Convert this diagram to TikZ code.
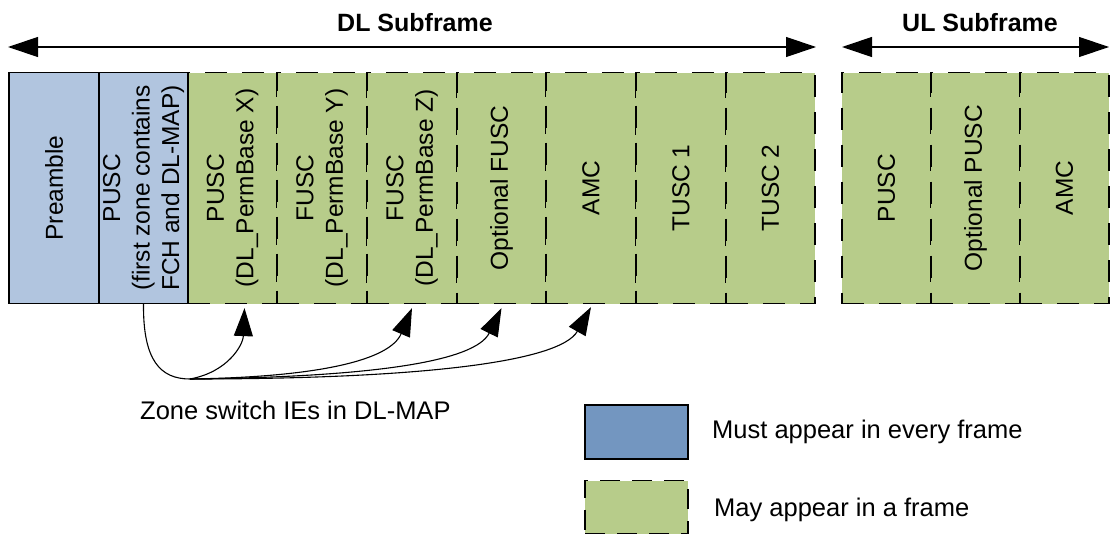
\documentclass[tikz,border=0pt]{standalone}
\usepackage{fontspec}
\setmainfont{Liberation Sans}
\usetikzlibrary{arrows.meta}
\definecolor{zoneblue}{HTML}{B1C5DF}
\definecolor{legblue}{HTML}{7396C0}
\definecolor{zonegreen}{HTML}{B7CC8A}
\tikzset{
  must/.style={draw=black, fill=zoneblue, line width=1.2pt, minimum height=231pt, inner sep=0pt},
  may/.style={draw=black, fill=zonegreen, line width=1.2pt, dash pattern=on 22pt off 15pt,
              minimum height=231pt, inner sep=0pt},
  vtext/.style={rotate=90, align=center, font=\fontsize{24.5}{29.5}\selectfont, inner sep=0pt},
  span/.style={line width=1.2pt, {Triangle[length=30pt,width=20pt]}-{Triangle[length=30pt,width=20pt]}},
  title/.style={font=\fontsize{25}{30}\selectfont\bfseries},
  zswitch/.style={line width=1.1pt, -{Triangle[length=28pt,width=19pt]}},
  plain/.style={font=\fontsize{25.5}{30}\selectfont, anchor=west, inner sep=0pt}
}
\begin{document}
\begin{tikzpicture}[x=1pt,y=-1pt]
\useasboundingbox (0,0) rectangle (1110,535);

% subframe spans
\coordinate (dlL) at (8,47);
\coordinate (dlR) at (816,47);
\coordinate (ulL) at (842,47);
\coordinate (ulR) at (1109,47);
\draw[span] (dlL) -- (dlR);
\draw[span] (ulL) -- (ulR);
\node[title] (dlt) at (415,23) {DL Subframe};
\node[title] (ult) at (980,23) {UL Subframe};

% downlink zones
\node[must, minimum width=90pt] (c1) at (54,188) {};
\node[must, minimum width=89pt] (c2) at (143.5,188) {};
\node[may, minimum width=89pt] (c3) at (232.5,188) {};
\node[may, minimum width=90pt] (c4) at (322,188) {};
\node[may, minimum width=90pt] (c5) at (412,188) {};
\node[may, minimum width=89pt] (c6) at (501.5,188) {};
\node[may, minimum width=90pt] (c7) at (591,188) {};
\node[may, minimum width=90pt] (c8) at (681,188) {};
\node[may, minimum width=89pt] (c9) at (770.5,188) {};
\draw[line width=1.2pt] (c2.north east) -- (c2.south east);

\node[vtext] at (c1) {Preamble};
\node[vtext] at (c2) {PUSC\\(first zone contains\\FCH and DL-MAP)};
\node[vtext] at (c3) {PUSC\\(DL\_PermBase X)};
\node[vtext] at (c4) {FUSC\\(DL\_PermBase Y)};
\node[vtext] at (c5) {FUSC\\(DL\_PermBase Z)};
\node[vtext] at (c6) {Optional FUSC};
\node[vtext] at (c7) {AMC};
\node[vtext] at (c8) {TUSC 1};
\node[vtext] at (c9) {TUSC 2};

% uplink zones
\node[may, minimum width=89pt] (u1) at (886.5,188) {};
\node[may, minimum width=89pt] (u2) at (975.5,188) {};
\node[may, minimum width=89pt] (u3) at (1064.5,188) {};
\node[vtext] at (u1) {PUSC};
\node[vtext] at (u2) {Optional PUSC};
\node[vtext] at (u3) {AMC};

% zone switch connectors
\coordinate (hub) at (190,379);
\draw[line width=1.1pt] (c2.south) .. controls (143,360) and (160,379) .. (hub);
\draw[zswitch] (hub) .. controls (228,372) and (243,345) .. ([xshift=12pt,yshift=-4pt]c3.south);
\draw[zswitch] (hub) .. controls (320,377) and (390,360) .. ([yshift=-4pt]c5.south);
\draw[zswitch] (hub) .. controls (370,377) and (475,362) .. ([yshift=-4pt]c6.south);
\draw[zswitch] (hub) .. controls (420,379) and (560,362) .. ([yshift=-3pt]c7.south);
\node[plain] (zs) at (140,410) {Zone switch IEs in DL-MAP};

% legend
\node[draw=black, fill=legblue, line width=1.2pt, minimum width=103pt, minimum height=54pt, inner sep=0pt] (lb) at (636.5,432) {};
\node[draw=black, fill=zonegreen, line width=1.2pt, dash pattern=on 20pt off 12pt, minimum width=103pt, minimum height=53pt, inner sep=0pt] (lg) at (636.5,507) {};
\node[plain] (lbt) at (712,432) {Must appear in every frame};
\node[plain] (lgt) at (714,510) {May appear in a frame};
\end{tikzpicture}
\end{document}
